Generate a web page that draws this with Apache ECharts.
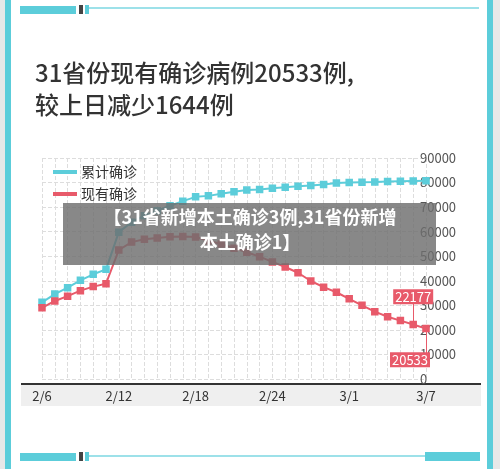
<!DOCTYPE html><html><head><meta charset="utf-8"><script src="https://cdn.jsdelivr.net/npm/echarts@6/dist/echarts.min.js"></script>
<style>html,body{margin:0;padding:0;background:#fff}#c{width:500px;height:469px}</style></head><body><div id="c"></div><script>
const dates=['2/6','2/7','2/8','2/9','2/10','2/11','2/12','2/13','2/14','2/15','2/16','2/17','2/18','2/19','2/20','2/21','2/22','2/23','2/24','2/25','2/26','2/27','2/28','2/29','3/1','3/2','3/3','3/4','3/5','3/6','3/7'];
const cumulative=[31211,34598,37198,40171,42638,44653,59804,63851,66492,68500,70548,72436,74185,74576,75465,76288,76936,77150,77658,78064,78497,78824,79251,79824,80026,80151,80270,80409,80552,80651,80695];
const existing=[28985,31774,33738,35982,37626,38800,52526,55748,56873,57416,57934,58016,57805,56303,54965,53284,51606,49824,47672,45604,43258,39919,37414,35329,32652,30004,27433,25352,23784,22177,20533];
const yTicks=[0,10000,20000,30000,40000,50000,60000,70000,80000,90000];
const F='"Noto Sans CJK SC","Noto Sans",sans-serif';
const c=echarts.init(document.getElementById('c'));
const teal='#5ccdda',red='#e85a6a';
c.setOption({animation:false,
title:{text:'31省份现有确诊病例20533例,\n较上日减少1644例',left:30,top:52,textStyle:{fontFamily:F,fontSize:24,fontWeight:500,color:'#333',lineHeight:32}},
legend:{left:48,top:160,orient:'vertical',itemGap:8,itemWidth:22,itemHeight:10,icon:'path://M0,4 L22,4 L22,6 L0,6 Z',textStyle:{fontFamily:F,fontSize:14,color:'#333'},data:['累计确诊','现有确诊']},
grid:{left:42,right:74,top:158,bottom:90},
xAxis:{type:'category',data:dates,boundaryGap:false,axisLine:{show:false},axisTick:{show:false},
 axisLabel:{interval:5,margin:11,fontFamily:F,fontSize:13,color:'#333'},
 splitLine:{show:true,interval:0,lineStyle:{type:'dashed',color:'#ddd'}}},
yAxis:{type:'value',position:'right',min:0,max:90000,interval:10000,axisLine:{show:false},axisTick:{show:false},
 axisLabel:{margin:-6,fontFamily:F,fontSize:13,color:'#555',formatter:v=>yTicks.includes(v)?String(v):''},
 splitLine:{lineStyle:{type:'dashed',color:'#ddd'}}},
series:[
{name:'累计确诊',type:'line',data:cumulative,symbol:'rect',symbolSize:6,showSymbol:true,lineStyle:{width:2,color:teal},itemStyle:{color:teal,borderColor:teal,borderWidth:1.5}},
{name:'现有确诊',type:'line',data:existing,symbol:'rect',symbolSize:6,showSymbol:true,lineStyle:{width:2,color:red},itemStyle:{color:red,borderColor:red,borderWidth:1.5},
 markLine:{symbol:'none',silent:true,label:{show:false},lineStyle:{color:red,type:'solid',width:1},data:[
  [{coord:['3/6',22177]},{coord:['3/6',32000]}],[{coord:['3/7',20533]},{coord:['3/7',9000]}]]},
 markPoint:{symbol:'rect',symbolSize:[40,15],itemStyle:{color:red},label:{color:'#fff',fontFamily:F,fontSize:13},data:[
  {coord:['3/6',33500],value:22177},{coord:['3/7',7800],value:20533,symbolOffset:[-16,0]}]}}
],
graphic:[
 {type:'rect',shape:{x:5,y:0,width:6,height:469},style:{fill:teal}},
 {type:'rect',shape:{x:487,y:0,width:6,height:469},style:{fill:teal}},
 {type:'rect',shape:{x:0,y:0,width:5,height:469},style:{fill:'#e8e8e8'}},
 {type:'rect',shape:{x:493,y:0,width:7,height:469},style:{fill:'#e8e8e8'}},
 {type:'rect',shape:{x:20,y:6,width:56,height:8},style:{fill:teal}},
 {type:'rect',shape:{x:79,y:5,width:4,height:9},style:{fill:'#444'}},
 {type:'rect',shape:{x:85,y:5,width:4,height:9},style:{fill:teal}},
 {type:'rect',shape:{x:89,y:7,width:390,height:2},style:{fill:teal,opacity:0.6}},
 {type:'rect',shape:{x:20,y:453,width:56,height:8},style:{fill:teal}},
 {type:'rect',shape:{x:79,y:452,width:4,height:9},style:{fill:'#444'}},
 {type:'rect',shape:{x:85,y:452,width:4,height:9},style:{fill:teal}},
 {type:'rect',shape:{x:89,y:455,width:390,height:2},style:{fill:teal,opacity:0.6}},
 {type:'rect',shape:{x:425,y:452,width:55,height:9},style:{fill:teal}},
 {type:'rect',shape:{x:21,y:385,width:460,height:21},style:{fill:'#efefef'},z:-1},
 {type:'rect',shape:{x:21,y:383,width:460,height:2},style:{fill:'#333'}},
 {type:'rect',shape:{x:63,y:203,width:373,height:62},style:{fill:'rgba(110,110,110,0.82)'},z:100},
 {type:'text',x:250,y:208,z:101,style:{text:'【31省新增本土确诊3例,31省份新增',fill:'#fff',font:'bold 18px '+F,align:'center'}},
 {type:'text',x:250,y:233,z:101,style:{text:'本土确诊1】',fill:'#fff',font:'bold 18px '+F,align:'center'}}
]});
</script></body></html>
